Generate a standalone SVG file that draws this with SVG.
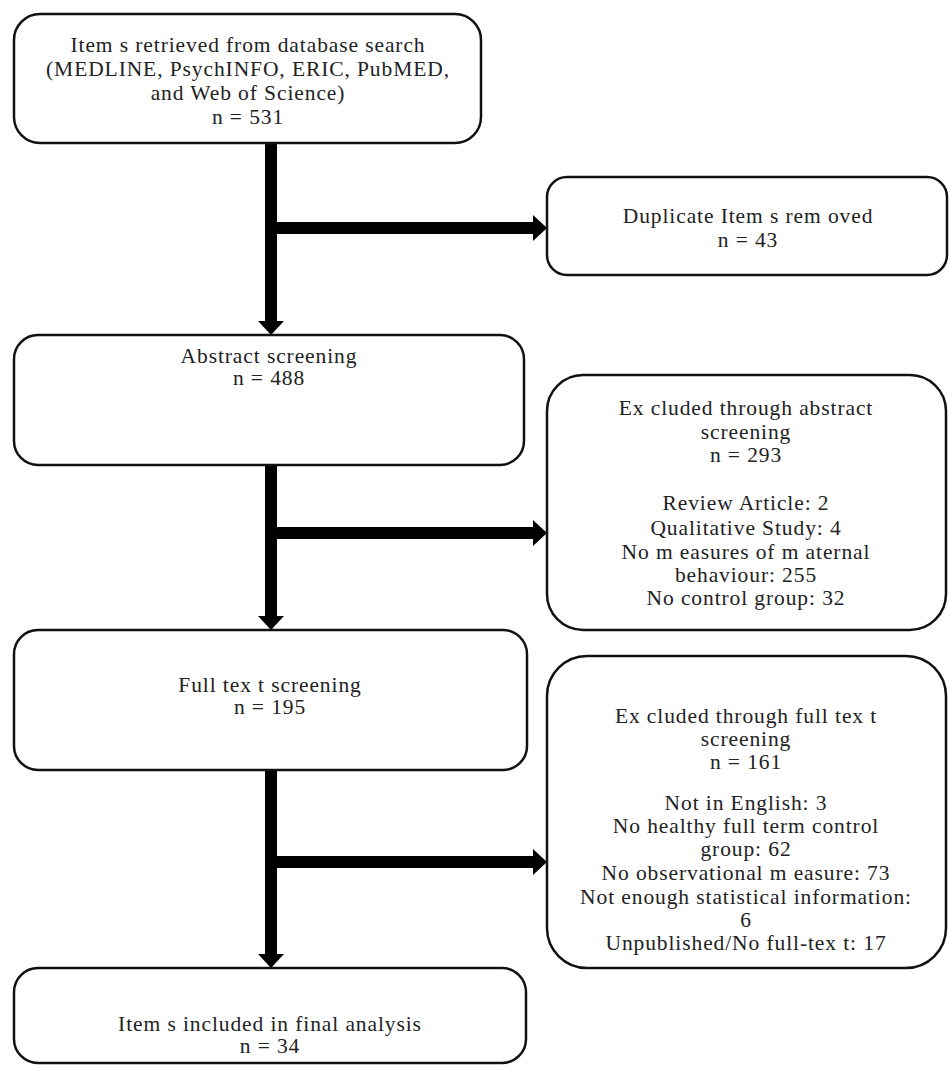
<svg xmlns="http://www.w3.org/2000/svg" width="950" height="1068" viewBox="0 0 950 1068">
<defs>
<style>
.box{fill:#fff;stroke:#111;stroke-width:2.5}
.t{font-family:"Liberation Serif","Times New Roman",serif;font-size:21.5px;fill:#222;text-anchor:middle;letter-spacing:0.9px}
.c{fill:none;stroke:#000;stroke-width:12}
</style>
<marker id="ah" viewBox="0 0 14 26" refX="0" refY="13" markerWidth="14" markerHeight="26" markerUnits="userSpaceOnUse" orient="auto">
<path d="M0,0 L14,13 L0,26 Z" fill="#000"/>
</marker>
</defs>
<rect width="950" height="1068" fill="#fff"/>
<g id="connectors">
<path class="c" d="M271,143 V321" marker-end="url(#ah)"/>
<path class="c" d="M271,228 H533" marker-end="url(#ah)"/>
<path class="c" d="M271,465 V616" marker-end="url(#ah)"/>
<path class="c" d="M271,533 H533" marker-end="url(#ah)"/>
<path class="c" d="M271,770 V954" marker-end="url(#ah)"/>
<path class="c" d="M271,862 H533" marker-end="url(#ah)"/>
</g>
<g id="n1">
<rect class="box" x="14" y="14" width="467" height="129" rx="26"/>
<text class="t" x="248" y="52">Item s retrieved from  database search</text>
<text class="t" x="248" y="76">(MEDLINE, PsychINFO, ERIC, PubMED,</text>
<text class="t" x="248" y="100">and Web of Science)</text>
<text class="t" x="248" y="124">n = 531</text>
</g>
<g id="n2">
<rect class="box" x="547" y="177" width="400" height="98" rx="20"/>
<text class="t" x="748" y="223">Duplicate Item s rem oved</text>
<text class="t" x="748" y="247">n = 43</text>
</g>
<g id="n3">
<rect class="box" x="14" y="335" width="510" height="130" rx="24"/>
<text class="t" x="269" y="363">Abstract screening</text>
<text class="t" x="269" y="385">n = 488</text>
</g>
<g id="n4">
<rect class="box" x="547" y="375" width="399" height="255" rx="36"/>
<text class="t" x="746" y="415">Ex cluded through abstract</text>
<text class="t" x="746" y="439">screening</text>
<text class="t" x="746" y="462">n = 293</text>
<text class="t" x="746" y="510">Review Article: 2</text>
<text class="t" x="746" y="535">Qualitative Study: 4</text>
<text class="t" x="746" y="559">No m easures of m aternal</text>
<text class="t" x="746" y="582">behaviour: 255</text>
<text class="t" x="746" y="605">No control group: 32</text>
</g>
<g id="n5">
<rect class="box" x="14" y="630" width="513" height="140" rx="24"/>
<text class="t" x="270" y="692">Full tex t screening</text>
<text class="t" x="270" y="714">n = 195</text>
</g>
<g id="n6">
<rect class="box" x="547" y="656" width="399" height="312" rx="40"/>
<text class="t" x="746" y="723">Ex cluded through full tex t</text>
<text class="t" x="746" y="746">screening</text>
<text class="t" x="746" y="769">n = 161</text>
<text class="t" x="746" y="810">Not in English: 3</text>
<text class="t" x="746" y="833">No healthy full term  control</text>
<text class="t" x="746" y="856">group: 62</text>
<text class="t" x="746" y="880">No observational m easure: 73</text>
<text class="t" x="746" y="904">Not enough statistical information:</text>
<text class="t" x="746" y="927">6</text>
<text class="t" x="746" y="950">Unpublished/No full-tex t: 17</text>
</g>
<g id="n7">
<rect class="box" x="14" y="968" width="512" height="95" rx="24"/>
<text class="t" x="270" y="1031">Item s included in final analysis</text>
<text class="t" x="270" y="1053">n = 34</text>
</g>
</svg>
